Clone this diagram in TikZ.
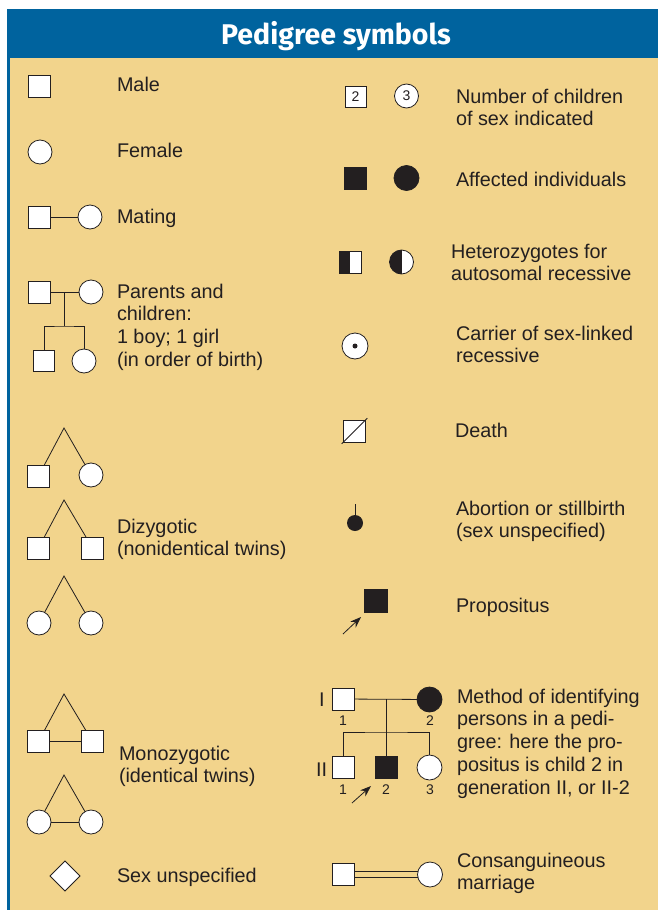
\documentclass[tikz,border=0pt]{standalone}
\usepackage{fontspec}
\setmainfont{Liberation Sans}
\newfontfamily\titlefont{Fira Sans}
\usetikzlibrary{shapes.geometric,arrows.meta,calc}
\definecolor{hdrblue}{RGB}{0,99,158}
\definecolor{panel}{RGB}{242,212,140}
\definecolor{ink}{RGB}{35,31,32}
\newcommand\bodyfont{\fontsize{19.8}{22.9}\selectfont}
\newcommand\smallnum{\fontsize{14}{16}\selectfont}
\newcommand\txtlines[1]{\begin{tabular}[t]{@{}l@{}}#1\end{tabular}}
\begin{document}
\begin{tikzpicture}[x=1pt,y=-1pt,
  every node/.style={inner sep=0pt,outer sep=0pt},
  conn/.style={draw=ink,line width=0.8pt},
  male/.style={rectangle,draw=ink,line width=0.8pt,fill=white,minimum size=22pt},
  female/.style={circle,draw=ink,line width=0.8pt,fill=white,minimum size=24pt},
  affm/.style={male,fill=ink},
  afff/.style={female,fill=ink},
  halfm/.style={male,path picture={\fill[ink] (path picture bounding box.south west) rectangle (path picture bounding box.north);}},
  lbl/.style={anchor=base west,text=ink,font=\bodyfont},
  num/.style={anchor=base,text=ink,font=\smallnum},
  arr/.style={draw=ink,line width=0.8pt,-{Stealth[length=11pt,width=8pt]}}
]
\useasboundingbox (0,0) rectangle (658,910);
\fill[white] (0,0) rectangle (658,910);
\fill[hdrblue] (6.5,9) rectangle (658,910);
\fill[panel] (9.5,57.5) rectangle (658,910);
\node[anchor=base,text=white,font=\titlefont\bfseries\fontsize{28.5}{32}\selectfont] (title) at (336,44) {Pedigree symbols};

% ---------- left column ----------
\node[male] (male) at (39,86) {};
\node[lbl] (tmale) at (117,91) {Male};
\node[female] (fem) at (40,152) {};
\node[lbl] (tfem) at (117,157) {Female};

\node[male] (mm) at (39,217) {};
\node[female] (mf) at (90,217) {};
\draw[conn] (mm) -- (mf);
\node[lbl] (tmat) at (117,223) {Mating};

\node[male] (pm) at (39,292) {};
\node[female] (pf) at (91,292) {};
\draw[conn] (pm) -- (pf);
\coordinate (pj) at (64,292);
\coordinate (ps) at (64,326);
\node[male,minimum size=21pt] (c1) at (44,361) {};
\node[female] (c2) at (84,361) {};
\draw[conn] (pj) -- (ps);
\draw[conn] (c1.north) |- (ps) -| (c2.north);
\node[lbl] (tpar) at (117,298) {\txtlines{Parents and\\children:\\1 boy; 1 girl\\(in order of birth)}};

% dizygotic
\coordinate (da) at (64,428);
\node[male] (da1) at (38.5,476) {};
\node[female] (da2) at (91,475) {};
\draw[conn] (da1) -- (da) -- (da2);
\coordinate (db) at (64,500);
\node[male] (db1) at (38.5,548) {};
\node[male] (db2) at (92.5,548) {};
\draw[conn] (db1) -- (db) -- (db2);
\coordinate (dc) at (64,576);
\node[female] (dc1) at (39,623) {};
\node[female] (dc2) at (91,623) {};
\draw[conn] (dc1) -- (dc) -- (dc2);
\node[lbl] (tdiz) at (117,533) {\txtlines{Dizygotic\\(nonidentical twins)}};

% monozygotic
\coordinate (ma) at (64,694);
\node[male] (ma1) at (38.5,741.5) {};
\node[male] (ma2) at (92.5,741.5) {};
\draw[conn] (ma1) -- (ma) -- (ma2);
\draw[conn] (ma1) -- (ma2);
\coordinate (mb) at (64,775);
\node[female] (mb1) at (39,822) {};
\node[female] (mb2) at (91,822) {};
\draw[conn] (mb1) -- (mb) -- (mb2);
\draw[conn] (mb1) -- (mb2);
\node[lbl] (tmono) at (119,760) {\txtlines{Monozygotic\\(identical twins)}};

\node[diamond,draw=ink,fill=white,line width=0.8pt,minimum width=30pt,minimum height=30pt,aspect=1] (dia) at (65,876) {};
\node[lbl] (tsex) at (117,882) {Sex unspecified};

% ---------- right column ----------
\node[male,minimum size=21pt,font=\smallnum,text=ink] (n2) at (355.5,97) {2};
\node[female,font=\smallnum,text=ink] (n3) at (406.5,96) {3};
\node[lbl] (tnum) at (456,103) {\txtlines{Number of children\\of sex indicated}};

\node[affm] (afm) at (355.5,178) {};
\node[afff,minimum size=25pt] (aff) at (406.5,178) {};
\node[lbl] (taff) at (456,186) {Affected individuals};

\node[halfm] (hm) at (350,262) {};
\node[female,path picture={\fill[ink] (path picture bounding box.south west) rectangle (path picture bounding box.north);}] (hf) at (401.5,262) {};
\node[lbl] (thet) at (451,258) {\txtlines{Heterozygotes for\\autosomal recessive}};

\node[female,minimum size=26pt] (car) at (355,346) {};
\node[circle,fill=ink,minimum size=5pt] (cdot) at (355,346) {};
\node[lbl] (tcar) at (456,340) {\txtlines{Carrier of sex-linked\\recessive}};

\node[male] (dth) at (354.5,431) {};
\draw[conn] ($(dth.south west)!-0.08!(dth.north east)$) -- ($(dth.north east)!-0.08!(dth.south west)$);
\node[lbl] (tdth) at (455,437) {Death};

\node[circle,fill=ink,minimum size=16pt] (ab) at (355,523) {};
\coordinate (abt) at (355,504);
\draw[conn] (abt) -- (ab);
\node[lbl] (tab) at (456,515) {\txtlines{Abortion or stillbirth\\(sex unspecified)}};

\node[affm,minimum size=23pt] (pro) at (375.5,600.5) {};
\coordinate (proa) at (343,634);
\coordinate (prob) at (361,617);
\draw[arr] (proa) -- (prob);
\node[lbl] (tpro) at (456,612) {Propositus};

% method pedigree
\node[lbl] (gI) at (319,706) {I};
\node[lbl] (gII) at (316,776) {II};
\node[male] (i1) at (343,699) {};
\node[afff,minimum size=25pt] (i2) at (429.5,699.5) {};
\draw[conn] (i1) -- (i2);
\coordinate (ij) at (386,699);
\coordinate (sib) at (386,732);
\node[male] (ii1) at (343,767.5) {};
\node[affm] (ii2) at (386,767.5) {};
\node[female,minimum size=25pt] (ii3) at (429.5,767.5) {};
\draw[conn] (ij) -- (ii2.north);
\draw[conn] (ii1.north) |- (sib) -| (ii3.north);
\node[num] (l11) at (343,725) {1};
\node[num] (l12) at (430,725) {2};
\node[num] (l21) at (343,794) {1};
\node[num] (l22) at (386,794) {2};
\node[num] (l23) at (430,794) {3};
\coordinate (mta) at (352,803);
\coordinate (mtb) at (371,786);
\draw[arr] (mta) -- (mtb);
\node[lbl] (tmeth) at (457,703) {\txtlines{Method of identifying\\persons in a pedi-\\gree: here the pro-\\positus is child 2 in\\generation II, or II-2}};

\node[male] (cm) at (343,874) {};
\node[female,minimum size=25pt] (cf) at (430,874.5) {};
\draw[conn] ([yshift=3pt]cm.east) -- ([yshift=3pt]cm.east -| cf.west);
\draw[conn] ([yshift=-3pt]cm.east) -- ([yshift=-3pt]cm.east -| cf.west);
\node[lbl] (tcon) at (457,867) {\txtlines{Consanguineous\\marriage}};
\end{tikzpicture}
\end{document}
